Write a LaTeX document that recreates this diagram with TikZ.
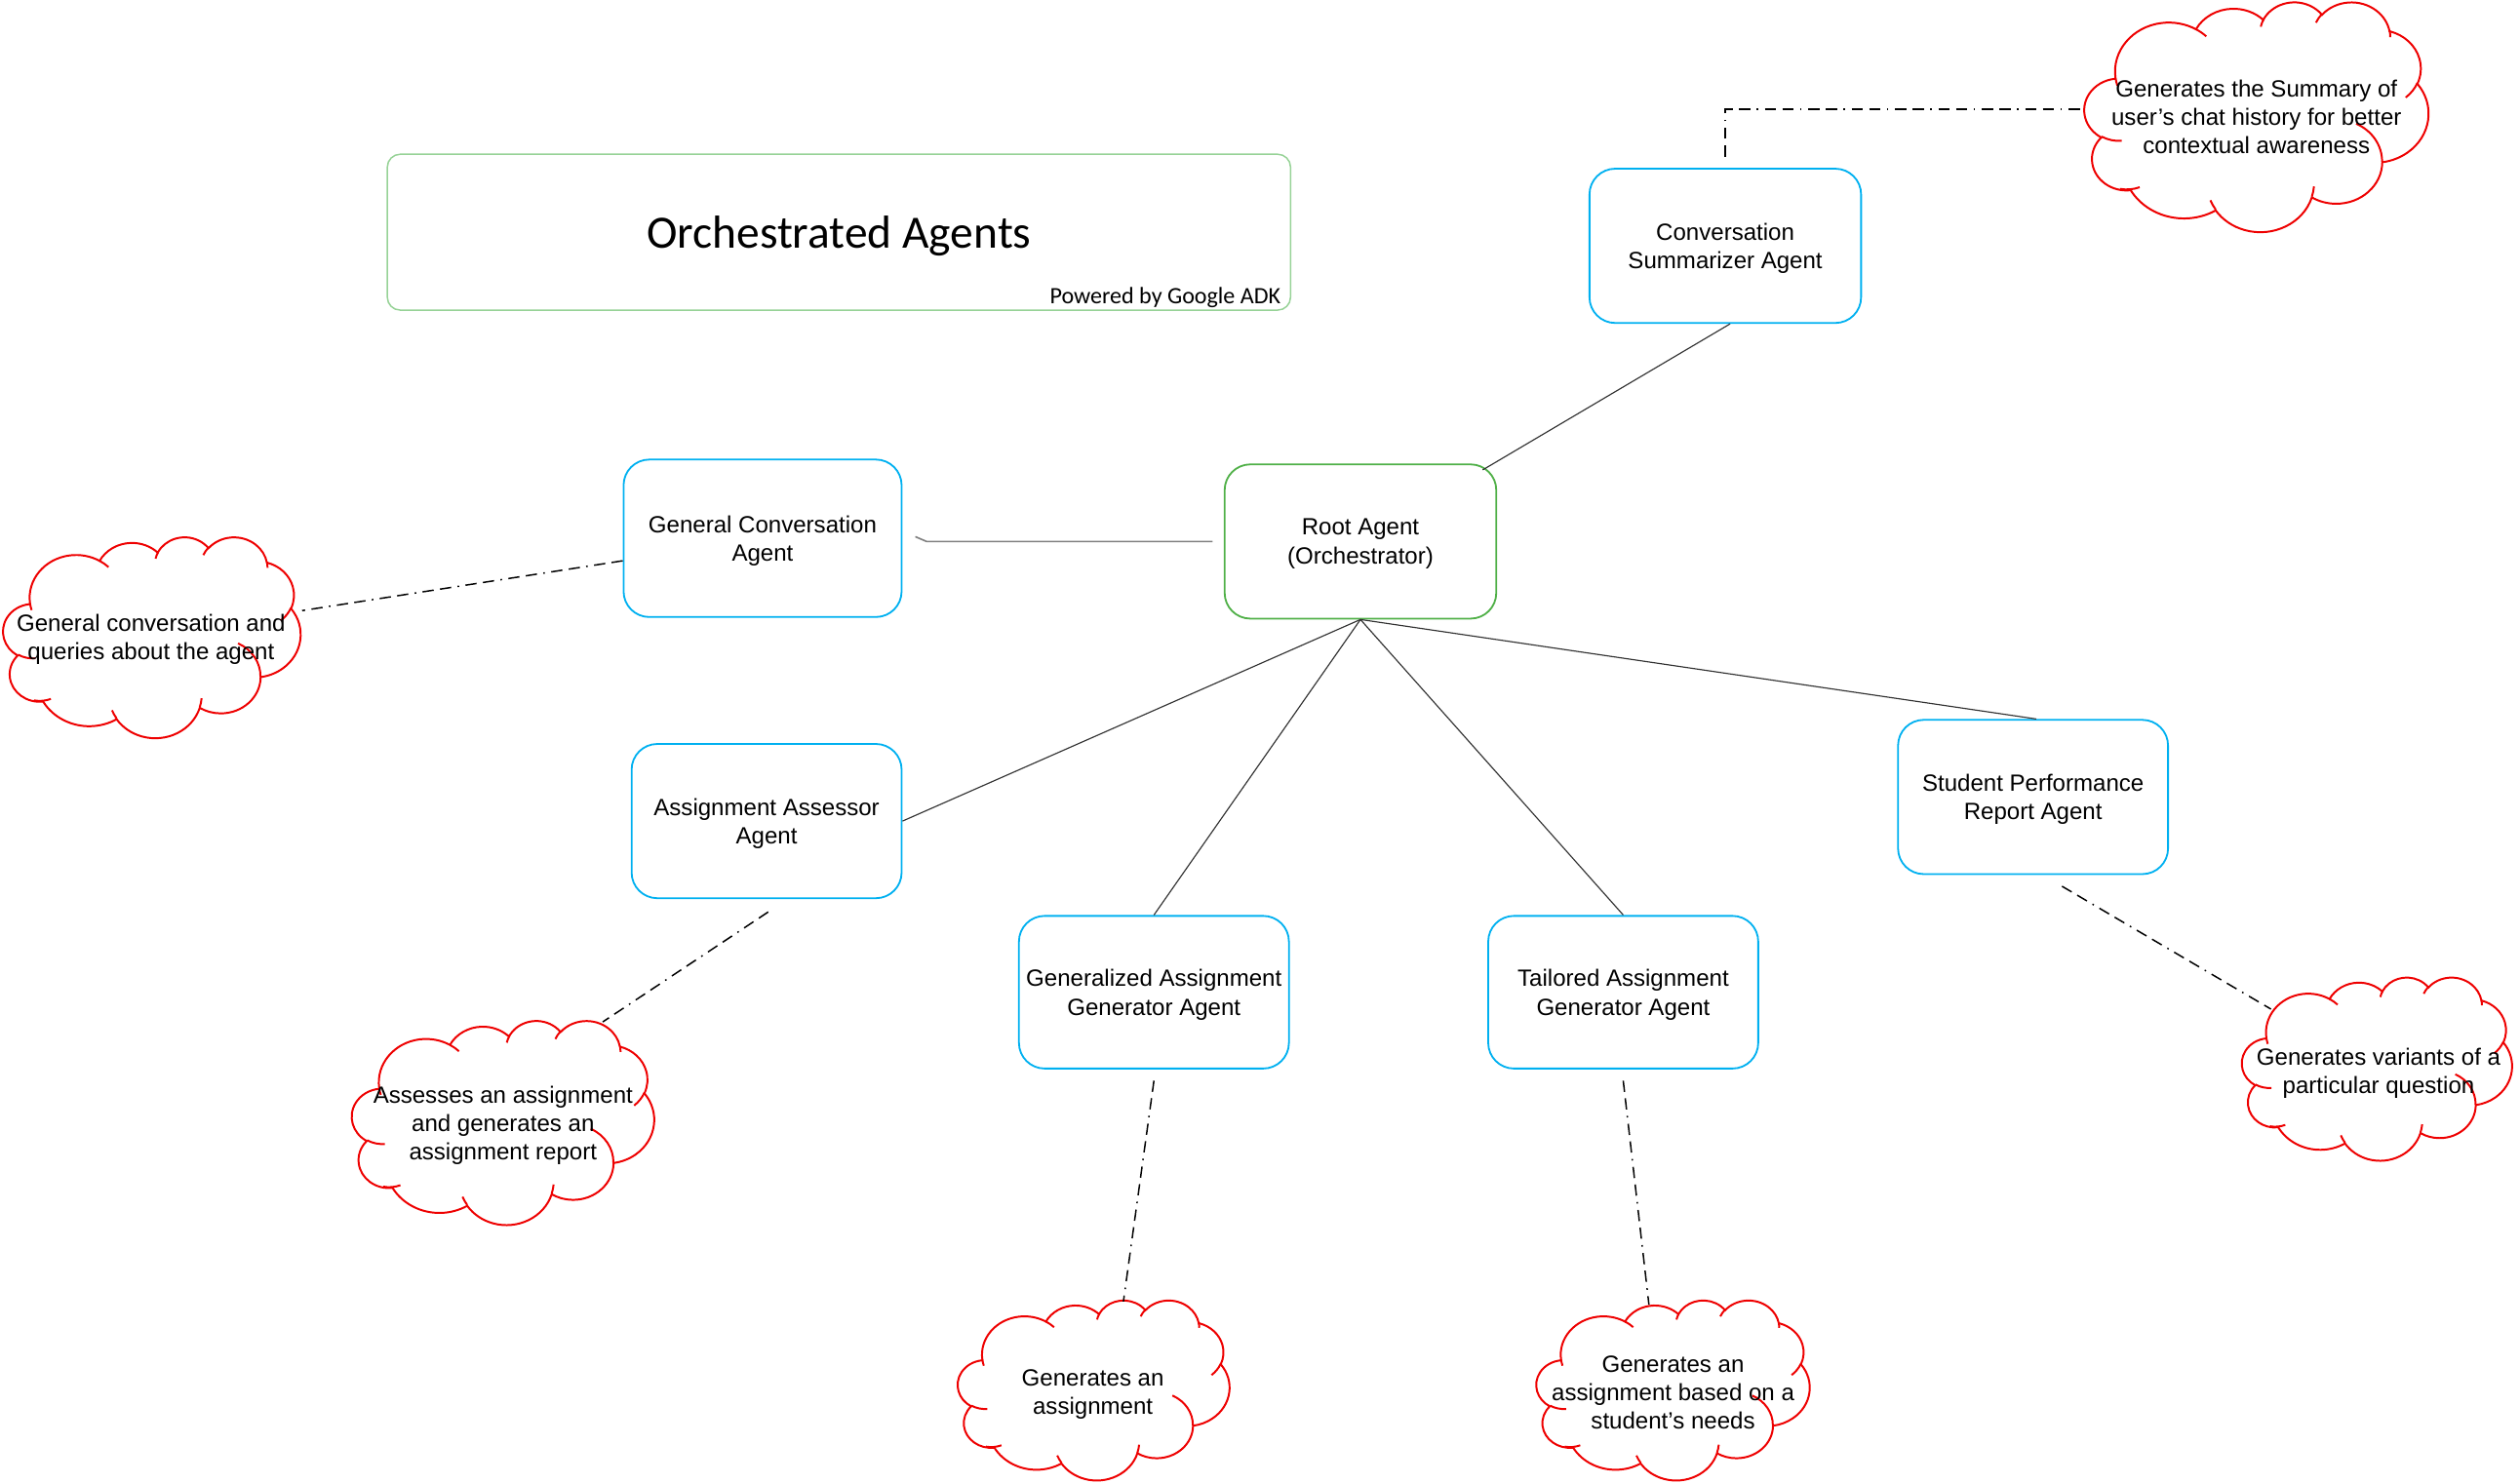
\documentclass[tikz,border=0pt]{standalone}
\usepackage{fontspec}
\setmainfont{Liberation Sans}
\newfontfamily\calibri{Carlito}
\definecolor{agentblue}{RGB}{0,176,240}
\definecolor{rootgreen}{RGB}{80,176,72}
\definecolor{titlegreen}{RGB}{150,210,150}
\definecolor{cloudred}{RGB}{238,0,0}
\definecolor{linegray}{RGB}{50,50,50}
\def\carc#1#2#3#4{arc[x radius=#1, y radius=#2, start angle={atan2(#1*sin(#3),#2*cos(#3))}, delta angle={Mod(atan2(#1*sin(#3+#4),#2*cos(#3+#4))-atan2(#1*sin(#3),#2*cos(#3)),360)}]}
\newcommand\ocloud[5]{%
  \pgfmathsetmacro\cw{#4/432}\pgfmathsetmacro\ch{#5/432}%
  \begin{scope}[shift={(#2,#3)}, x=\cw pt, y=-\ch pt]
    \draw[cloudline, fill=white] (39.00,143.70)
      \carc{67.53}{91.90}{-190.4875}{123.7805}
      \carc{53.33}{72.67}{-144.1024}{89.9452}
      \carc{43.65}{59.45}{-145.8079}{99.7230}
      \carc{48.57}{65.95}{-130.9861}{117.2417}
      \carc{53.33}{72.73}{-78.7089}{109.0269}
      \carc{67.75}{92.20}{-46.2673}{130.2690}
      \carc{57.85}{78.67}{0.6250}{114.0333}
      \carc{67.52}{92.15}{22.4516}{115.1726}
      \carc{77.20}{105.43}{66.2426}{75.7110}
      \carc{43.60}{59.18}{-274.9421}{146.7356}
      \carc{43.45}{59.45}{-246.8285}{152.5189} -- cycle;
    \draw[cloudline]
      (46.93,261.77) \carc{43.45}{59.45}{86.7420}{26.4295}
      (69.28,348.99) \carc{43.60}{59.18}{73.6105}{24.6796}
      (164.78,390.90) \carc{67.52}{92.15}{137.6242}{14.0811}
      (288.27,347.51) \carc{67.52}{92.15}{6.4533}{15.9984}
      (341.29,229.54) \carc{57.85}{78.67}{-70.2924}{70.9174}
      (417.98,153.54) \carc{53.33}{72.73}{30.3180}{27.7515}
      (383.24,54.26) \carc{48.57}{65.95}{-13.7443}{14.8589}
      (290.78,39.52) \carc{48.57}{65.95}{-149.1815}{18.1954}
      (221.41,47.20) \carc{43.65}{59.45}{-163.4943}{17.6864}
      (140.00,51.92) \carc{67.53}{91.90}{-66.7070}{12.3194}
      (41.27,157.89) \carc{67.53}{91.90}{157.6544}{11.8582};
    \coordinate (#1) at (216,216);
  \end{scope}}
\tikzset{
  agent/.style={draw=agentblue, line width=1.1pt, rounded corners=16pt, minimum width=169pt, minimum height=96pt, align=center, inner sep=0pt, font=\fontsize{14.6}{17.8}\selectfont, text depth=-0.9pt},
  rootbox/.style={agent, draw=rootgreen},
  cloudline/.style={draw=cloudred, line width=1.2pt},
  cloudtext/.style={align=center, inner sep=0pt, font=\fontsize{14.6}{17.6}\selectfont},
  link/.style={draw=linegray, line width=0.7pt},
  note/.style={draw=black, line width=0.9pt, dash pattern=on 7pt off 4pt on 7pt off 4pt on 1pt off 4pt},
}
\begin{document}
\begin{tikzpicture}[x=1pt, y=-1pt]
\useasboundingbox (0,0) rectangle (1568,923);
% title
\draw[titlegreen, line width=0.9pt, rounded corners=8pt] (241,96) rectangle (803,193);
\node[font=\calibri\fontsize{28.8}{32}\selectfont, inner sep=0pt] (title) at (522,147) {Orchestrated Agents};
\node[font=\calibri\fontsize{14.6}{16}\selectfont, inner sep=0pt, anchor=east] (adk) at (797,185) {Powered by Google ADK};
% agents
\node[agent] (conv) at (1073.5,153) {Conversation\\Summarizer Agent};
\node[rootbox] (root) at (846.5,337) {Root Agent\\(Orchestrator)};
\node[agent, minimum width=173pt, minimum height=98pt] (gc) at (474.5,335) {General Conversation\\Agent};
\node[agent, minimum width=168pt] (assess) at (477,511) {Assignment Assessor\\Agent};
\node[agent, minimum width=168pt, minimum height=95pt] (gen) at (718,617.5) {Generalized Assignment\\Generator Agent};
\node[agent, minimum width=168pt, minimum height=95pt] (tail) at (1010,617.5) {Tailored Assignment\\Generator Agent};
\node[agent, minimum width=168pt] (stud) at (1265,496) {Student Performance\\Report Agent};
% clouds
\ocloud{sumc}{1297}{1}{214}{143}
\ocloud{gcc}{2}{334}{185}{125}
\ocloud{asc}{219}{635}{188}{127}
\ocloud{genc}{596}{809}{169}{112}
\ocloud{tailc}{956}{809}{170}{112}
\ocloud{studc}{1395}{608}{168}{114}
\node[cloudtext] (sumt) at (1404,72.5) {Generates the Summary of\\user’s chat history for better\\contextual awareness};
\node[cloudtext] (gct) at (94,398) {General conversation and\\queries about the agent};
\node[cloudtext] (ast) at (313,700.5) {Assesses an assignment\\and generates an\\assignment report};
\node[cloudtext] (gent) at (680,868) {Generates an\\assignment};
\node[cloudtext] (tailt) at (1041,866.5) {Generates an\\assignment based on a\\student’s needs};
\node[cloudtext] (studt) at (1480,668) {Generates variants of a\\particular question};
% attach points on clouds
\coordinate (sumL) at (1297,68);
\coordinate (gcR) at (188,380);
\coordinate (asT) at (375,636);
\coordinate (genT) at (699,810);
\coordinate (tailT) at (1026,812);
\coordinate (studT) at (1413,628);
% solid links
\draw[link] ([shift={(-9,4)}]root.north east) -- ([shift={(3,0)}]conv.south);
\draw[link, draw=gray, line width=1pt] ([shift={(8,-1)}]gc.east) -- ([shift={(15,2)}]gc.east) -- ([shift={(-7,0)}]root.west);
\draw[link] (root.south) -- (assess.east);
\draw[link] (root.south) -- (gen.north);
\draw[link] (root.south) -- (tail.north);
\draw[link] (root.south) -- ([shift={(2,0)}]stud.north);
% dash-dot notes
\draw[note] ([shift={(0,-7)}]conv.north) |- (sumL);
\draw[note] ([shift={(0,14)}]gc.west) -- (gcR);
\draw[note] ([shift={(1,8)}]assess.south) -- (asT);
\draw[note] ([shift={(0,7)}]gen.south) -- (genT);
\draw[note] ([shift={(0,7)}]tail.south) -- (tailT);
\draw[note] ([shift={(18,7)}]stud.south) -- (studT);
\end{tikzpicture}
\end{document}
